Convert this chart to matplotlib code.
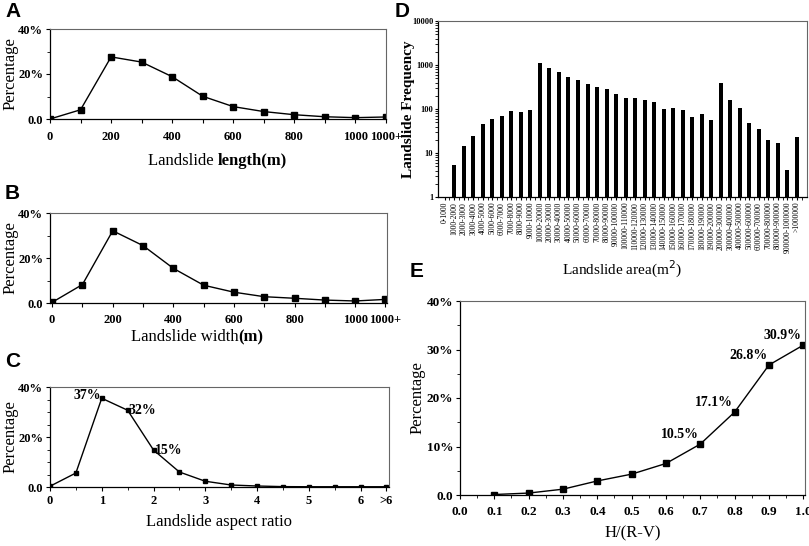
import matplotlib
matplotlib.use("Agg")
import matplotlib.pyplot as plt
from matplotlib.ticker import MultipleLocator, FixedLocator, NullFormatter, LogLocator, FuncFormatter
import numpy as np

plt.rcParams['font.family'] = ['Liberation Serif', 'DejaVu Serif']

# ---------------- data ----------------
length_labels = ["0", "100", "200", "300", "400", "500", "600", "700", "800", "900", "1000", "1000+"]
length_pct = [0.0, 4.1, 27.6, 25.3, 18.8, 10.1, 5.5, 3.3, 1.9, 1.0, 0.6, 0.9]

width_labels = ["0", "100", "200", "300", "400", "500", "600", "700", "800", "900", "1000", "1000+"]
width_pct = [0.3, 8.2, 32.1, 25.5, 15.4, 7.9, 4.8, 2.8, 2.1, 1.3, 0.9, 1.6]

ratio_x = [0, 0.5, 1, 1.5, 2, 2.5, 3, 3.5, 4, 4.5, 5, 5.5, 6, 6.5]
ratio_pct = [0.3, 5.6, 35.5, 30.7, 14.8, 6.0, 2.3, 0.8, 0.4, 0.15, 0.1, 0.1, 0.1, 0.1]
ratio_tick_labels = ["0", "1", "2", "3", "4", "5", "6", ">6"]
ratio_notes = {1: "37%", 1.5: "32%", 2: "15%"}

area_labels = ["0-1000", "1000-2000", "2000-3000", "3000-4000", "4000-5000", "5000-6000",
               "6000-7000", "7000-8000", "8000-9000", "9000-10000",
               "10000-20000", "20000-30000", "30000-40000", "40000-50000", "50000-60000",
               "60000-70000", "70000-80000", "80000-90000", "90000-100000",
               "100000-110000", "110000-120000", "120000-130000", "130000-140000",
               "140000-150000", "150000-160000", "160000-170000", "170000-180000",
               "180000-190000", "190000-200000",
               "200000-300000", "300000-400000", "400000-500000", "500000-600000",
               "600000-700000", "700000-800000", "800000-900000", "900000-1000000",
               ">1000000"]
area_freq = [1, 5.2, 14.8, 24, 46, 58, 71, 91, 86, 94,
             1090, 836, 690, 533, 456, 363, 309, 288, 218,
             177, 177, 162, 141, 100, 105, 94, 67, 76, 56,
             380, 162, 105, 49, 36, 20, 17, 4.2, 23]

hrv_x = [0.1, 0.2, 0.3, 0.4, 0.5, 0.6, 0.7, 0.8, 0.9, 1.0]
hrv_pct = [0.1, 0.4, 1.2, 2.9, 4.3, 6.5, 10.5, 17.1, 26.8, 30.9]
hrv_notes = {0.7: "10.5%", 0.8: "17.1%", 0.9: "26.8%", 1.0: "30.9%"}

# ---------------- figure ----------------
W, H = 809, 546
fig = plt.figure(figsize=(W / 100, H / 100), dpi=100)


def box(l, t, r, b):
    return [l / W, 1 - b / H, (r - l) / W, (b - t) / H]


def pct_fmt(v, pos):
    if abs(v) < 1e-9:
        return "0.0"
    return f"{int(round(v))}%"


def style_axes(ax, size=9):
    for s in ['top', 'right']:
        ax.spines[s].set_color('#666666')
        ax.spines[s].set_linewidth(0.8)
    for s in ['left', 'bottom']:
        ax.spines[s].set_color('black')
        ax.spines[s].set_linewidth(0.9)
    ax.tick_params(direction='out', length=3, width=0.8, pad=2)
    ax.tick_params(which='minor', direction='out', length=2, width=0.6)
    for lab in ax.get_xticklabels() + ax.get_yticklabels():
        lab.set_fontfamily('Liberation Serif')
        lab.set_fontweight('bold')
        lab.set_fontsize(size)


def panel_letter(x, y, s):
    fig.text(x / W, 1 - y / H, s, fontsize=15, fontweight='bold',
             family='Liberation Sans', va='top', ha='left')


def ylabel_at(ax, text, px_right, size=12):
    # px_right: figure pixel x of the label's right edge
    pos = ax.get_position()
    l = pos.x0 * W
    w = pos.width * W
    ax.set_ylabel(text, fontsize=size)
    ax.yaxis.set_label_coords((px_right - l) / w, 0.5)


def line_panel(ax, labels, vals):
    xs = np.arange(len(vals))
    ax.plot(xs, vals, color='black', lw=1.0, marker='s', ms=4, mfc='black', mec='black')
    ax.set_ylim(0, 40)
    ax.yaxis.set_major_locator(FixedLocator([0, 20, 40]))
    ax.yaxis.set_minor_locator(FixedLocator([10, 30]))
    ax.yaxis.set_major_formatter(FuncFormatter(pct_fmt))
    ax.set_xticks(xs)
    ax.set_xticklabels([lab if (i % 2 == 0 or i == len(labels) - 1) else "" for i, lab in enumerate(labels)])
    style_axes(ax)


# ---- A ----
axA = fig.add_axes(box(50, 29, 386, 119))
line_panel(axA, length_labels, length_pct)
axA.set_xlim(0, 11)
axA.tick_params(axis='x', pad=6)
ylabel_at(axA, "Percentage", 19)
axA.text(0.5, -0.38, "Landslide ", transform=axA.transAxes, fontsize=12, ha='right', va='top')
axA.text(0.5, -0.38, "length(m)", transform=axA.transAxes, fontsize=12, ha='left', va='top', fontweight='bold')
panel_letter(5, 2, "A")

# ---- B ----
axB = fig.add_axes(box(50, 213, 387, 303))
line_panel(axB, width_labels, width_pct)
axB.set_xlim(-0.07, 11.05)
axB.tick_params(axis='x', pad=5)
ylabel_at(axB, "Percentage", 19)
axB.text(0.56, -0.29, "Landslide width", transform=axB.transAxes, fontsize=12, ha='right', va='top')
axB.text(0.56, -0.29, "(m)", transform=axB.transAxes, fontsize=12, ha='left', va='top', fontweight='bold')
panel_letter(5, 184, "B")

# ---- C ----
axC = fig.add_axes(box(50, 387, 389, 487))
axC.plot(ratio_x, ratio_pct, color='black', lw=1.0, marker='s', ms=3.5, mfc='black', mec='black')
axC.set_xlim(0, 6.55)
axC.set_ylim(0, 40)
axC.yaxis.set_major_locator(FixedLocator([0, 20, 40]))
axC.yaxis.set_minor_locator(MultipleLocator(5))
axC.yaxis.set_major_formatter(FuncFormatter(pct_fmt))
axC.set_xticks([0, 1, 2, 3, 4, 5, 6, 6.5])
axC.set_xticklabels(ratio_tick_labels)
axC.xaxis.set_minor_locator(MultipleLocator(0.5))
ylabel_at(axC, "Percentage", 19)
axC.set_xlabel("Landslide aspect ratio", fontsize=12, labelpad=5)
style_axes(axC)
axC.tick_params(axis='x', pad=3)
for xv, s in ratio_notes.items():
    yv = ratio_pct[ratio_x.index(xv)]
    if xv == 1:
        axC.text(xv - 0.02, yv + 1.0, s, fontsize=10, fontweight='bold', ha='right', va='center')
    else:
        axC.text(xv + 0.02, yv, s, fontsize=10, fontweight='bold', ha='left', va='center')
panel_letter(5, 352, "C")

# ---- D ----
axD = fig.add_axes(box(438, 21, 807, 197))
xd = np.arange(len(area_freq))
axD.bar(xd, area_freq, width=0.42, color='black', bottom=0)
axD.set_yscale('log')
axD.set_ylim(1, 10000)
axD.set_xlim(-0.7, 38.05)
axD.yaxis.set_major_locator(FixedLocator([1, 10, 100, 1000, 10000]))
axD.yaxis.set_major_formatter(FuncFormatter(lambda v, p: f"{int(v)}"))
axD.yaxis.set_minor_locator(LogLocator(base=10, subs=np.arange(2, 10)))
axD.yaxis.set_minor_formatter(NullFormatter())
axD.set_xticks(xd)
axD.set_xticklabels(area_labels, rotation=90)
axD.xaxis.set_minor_locator(FixedLocator(xd + 0.5))
style_axes(axD)
for lab in axD.get_xticklabels():
    lab.set_fontsize(5.5)
    lab.set_fontweight('normal')
for lab in axD.get_yticklabels():
    lab.set_fontsize(6)
axD.tick_params(axis='both', length=2.5, pad=1)
ylabel_at(axD, "Landslide Frequency", 415, size=11)
axD.yaxis.label.set_fontweight('bold')
axD.set_xlabel("Landslide area(m$^2$)", fontsize=11, labelpad=4)
panel_letter(395, 2, "D")

# ---- E ----
axE = fig.add_axes(box(460, 301, 805, 495))
axE.plot(hrv_x, hrv_pct, color='black', lw=1.0, marker='s', ms=4, mfc='black', mec='black')
axE.set_xlim(0, 1.005)
axE.set_ylim(0, 40)
axE.xaxis.set_major_locator(FixedLocator(np.round(np.arange(0, 1.01, 0.1), 1)))
axE.xaxis.set_major_formatter(FuncFormatter(lambda v, p: f"{v:.1f}"))
axE.xaxis.set_minor_locator(MultipleLocator(0.05))
axE.yaxis.set_major_locator(FixedLocator([0, 10, 20, 30, 40]))
axE.yaxis.set_minor_locator(MultipleLocator(5))
axE.yaxis.set_major_formatter(FuncFormatter(pct_fmt))
ylabel_at(axE, "Percentage", 426)
axE.set_xlabel("H/(R-V)", fontsize=12, labelpad=5)
style_axes(axE, size=9.5)
axE.tick_params(axis='x', pad=5)
for xv, s in hrv_notes.items():
    yv = hrv_pct[hrv_x.index(xv)]
    axE.text(xv - 0.005, yv + 0.6, s, fontsize=10, fontweight='bold', ha='right', va='bottom')
panel_letter(410, 262, "E")

fig.savefig("out.png", dpi=100)
